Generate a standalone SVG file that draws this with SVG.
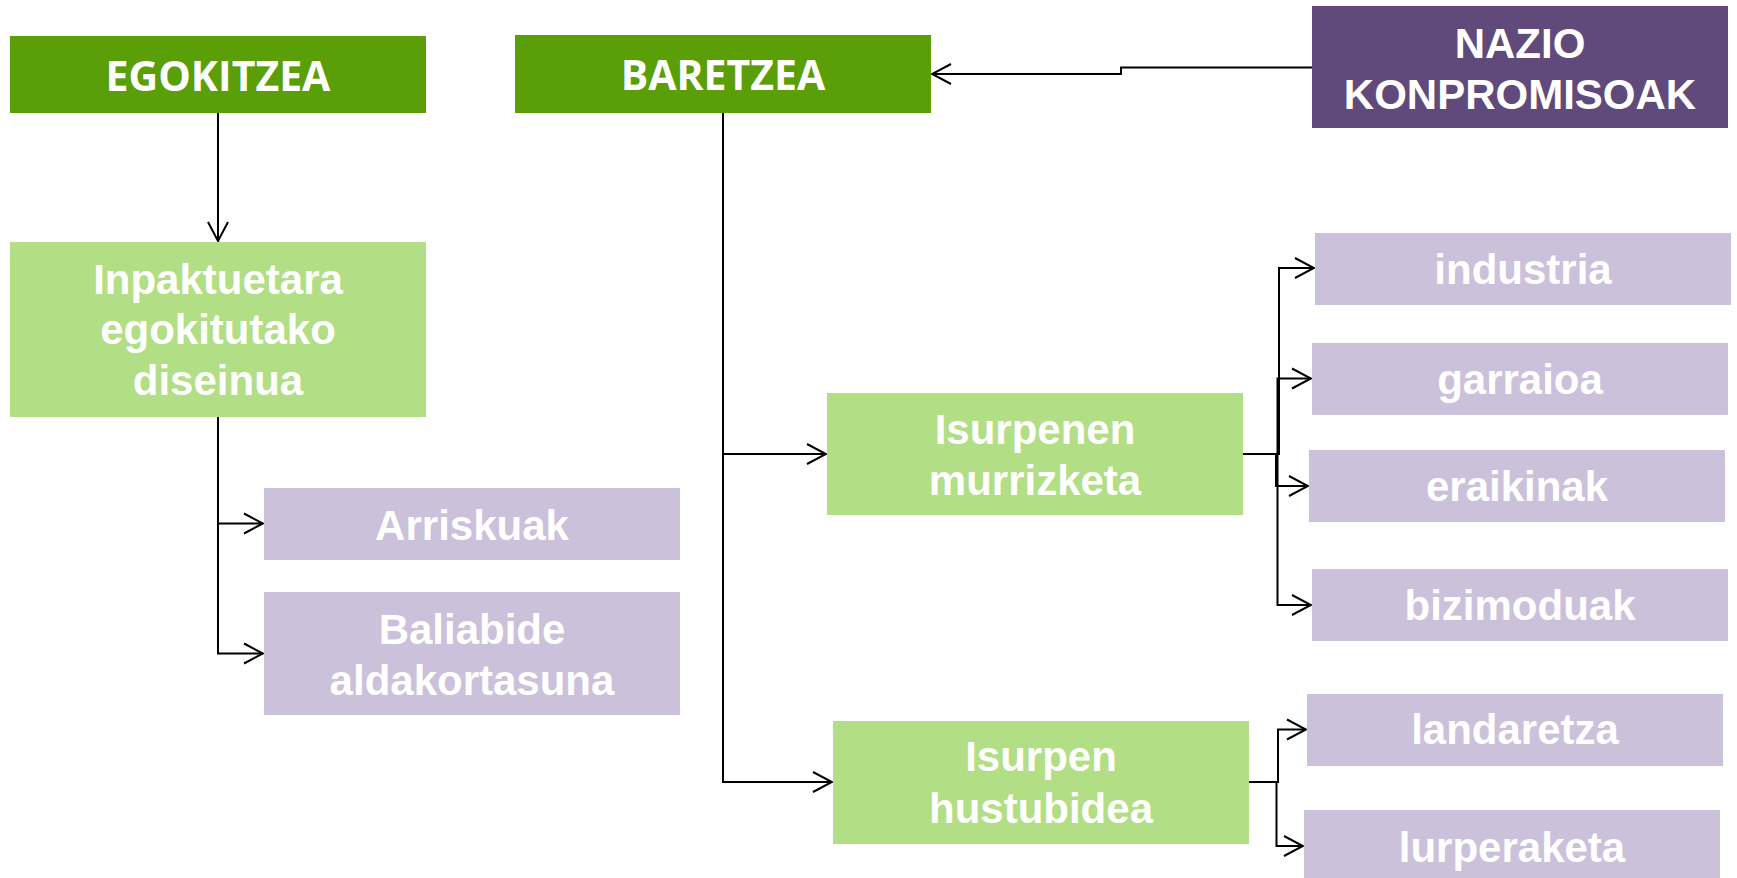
<svg xmlns="http://www.w3.org/2000/svg" width="1737" height="878" viewBox="0 0 1737 878">
<style>
.dg{fill:#5A9E08}
.lg{fill:#B2DE85}
.lp{fill:#CBC1DA}
.dp{fill:#604A7B}
.t{font-family:"Liberation Sans",Arial,sans-serif;font-weight:bold;font-size:42px;fill:#fff;text-anchor:middle}
.h{font-family:"Open Sans","Liberation Sans",sans-serif;font-weight:bold;font-size:41px;fill:#fff;text-anchor:middle}
.c{fill:none;stroke:#000;stroke-width:2;marker-end:url(#arr)}
</style>
<defs>
<marker id="arr" markerUnits="userSpaceOnUse" markerWidth="24" markerHeight="24" viewBox="-22 -12 24 24" refX="0" refY="0" orient="auto">
<path d="M-19,-10 L0,0 L-19,10" fill="none" stroke="#000" stroke-width="2"/>
</marker>
</defs>
<rect width="1737" height="878" fill="#fff"/>
<g id="connectors">
<path class="c" d="M218,113 V241"/>
<path class="c" d="M1312,67.5 H1121 V74 H932"/>
<path class="c" d="M218,417 V523.5 H263"/>
<path class="c" d="M218,417 V653.5 H263"/>
<path class="c" d="M723,112 V454 H826"/>
<path class="c" d="M723,112 V782 H832"/>
<path class="c" d="M1243,454 H1279 V268 H1314"/>
<path class="c" d="M1243,454 H1277.5 V378.5 H1311"/>
<path class="c" d="M1243,454 H1276 V486 H1308"/>
<path class="c" d="M1243,454 H1277.5 V605 H1311"/>
<path class="c" d="M1249,782 H1278 V729.5 H1306"/>
<path class="c" d="M1249,782 H1276.5 V846 H1303"/>
</g>
<g id="egokitzea"><rect class="dg" x="10" y="36" width="416" height="77"/><text class="h" x="218" y="90.5">EGOKITZEA</text></g>
<g id="baretzea"><rect class="dg" x="515" y="35" width="416" height="78"/><text class="h" x="723" y="90">BARETZEA</text></g>
<g id="nazio"><rect class="dp" x="1312" y="6" width="416" height="122"/><text class="t" x="1520" y="57.5">NAZIO</text><text class="t" x="1520" y="108.5">KONPROMISOAK</text></g>
<g id="inpaktuetara"><rect class="lg" x="10" y="242" width="416" height="175"/><text class="t" x="218" y="293.5">Inpaktuetara</text><text class="t" x="218" y="344">egokitutako</text><text class="t" x="218" y="395">diseinua</text></g>
<g id="arriskuak"><rect class="lp" x="264" y="488" width="416" height="72"/><text class="t" x="472" y="539.5">Arriskuak</text></g>
<g id="baliabide"><rect class="lp" x="264" y="592" width="416" height="123"/><text class="t" x="472" y="643.5">Baliabide</text><text class="t" x="472" y="695">aldakortasuna</text></g>
<g id="isurpenen"><rect class="lg" x="827" y="393" width="416" height="122"/><text class="t" x="1035" y="443.5">Isurpenen</text><text class="t" x="1035" y="495">murrizketa</text></g>
<g id="hustubidea"><rect class="lg" x="833" y="721" width="416" height="123"/><text class="t" x="1041" y="771">Isurpen</text><text class="t" x="1041" y="822.5">hustubidea</text></g>
<g id="industria"><rect class="lp" x="1315" y="233" width="416" height="72"/><text class="t" x="1523" y="283.5">industria</text></g>
<g id="garraioa"><rect class="lp" x="1312" y="343" width="416" height="72"/><text class="t" x="1520" y="393.5">garraioa</text></g>
<g id="eraikinak"><rect class="lp" x="1309" y="450" width="416" height="72"/><text class="t" x="1517" y="500.5">eraikinak</text></g>
<g id="bizimoduak"><rect class="lp" x="1312" y="569" width="416" height="72"/><text class="t" x="1520" y="620">bizimoduak</text></g>
<g id="landaretza"><rect class="lp" x="1307" y="694" width="416" height="72"/><text class="t" x="1515" y="743.5">landaretza</text></g>
<g id="lurperaketa"><rect class="lp" x="1304" y="810" width="416" height="72"/><text class="t" x="1512" y="862">lurperaketa</text></g>
</svg>
